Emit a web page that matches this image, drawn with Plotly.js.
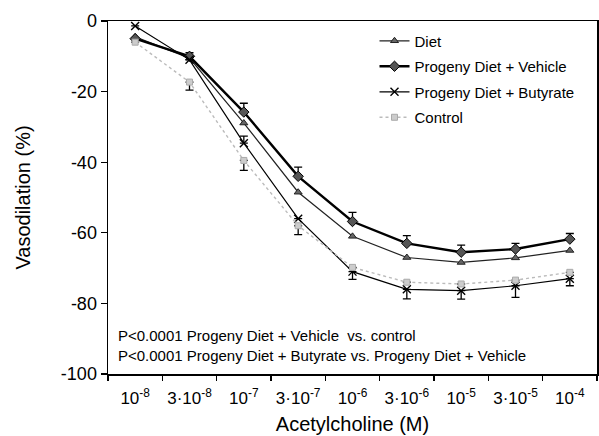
<!DOCTYPE html>
<html>
<head>
<meta charset="utf-8">
<script src="https://cdn.plot.ly/plotly-3.0.1.min.js"></script>
<style>html,body{margin:0;padding:0;background:#fff;}#chart{width:599px;height:436px;}</style>
</head>
<body>
<div id="chart"></div>
<script>
// Categories (acetylcholine concentration, M)
const categories = ["1e-8", "3e-8", "1e-7", "3e-7", "1e-6", "3e-6", "1e-5", "3e-5", "1e-4"];
const tickLabels = ["10<sup>-8</sup>", "3·10<sup>-8</sup>", "10<sup>-7</sup>", "3·10<sup>-7</sup>", "10<sup>-6</sup>",
                    "3·10<sup>-6</sup>", "10<sup>-5</sup>", "3·10<sup>-5</sup>", "10<sup>-4</sup>"];
const yTicks = [0, -20, -40, -60, -80, -100];

// Series values (% vasodilation)
const diet = [-4.5, -10.5, -28.9, -48.5, -61, -67, -68.4, -67.1, -65];
const vehicle = [-5, -10, -25.8, -44, -56.8, -63, -65.5, -64.6, -61.8];
const vehicleErrUp = [0, 1, 2.5, 2.6, 2.6, 2.2, 2, 1.6, 1.6];
const butyrate = [-1.4, -11, -34.6, -56, -71, -76, -76.4, -75, -73];
const butyrateErrUp = [0, 0, 2, 0, 0, 0, 0, 0, 0];
const butyrateErrDown = [0, 0, 0, 0, 2.2, 2.7, 2.4, 3.3, 2];
const control = [-6, -17.3, -39.5, -58, -69.8, -74, -74.5, -73.4, -71.2];
const controlErrDown = [0, 2.3, 2.8, 2.5, 0, 0, 0, 0, 0];

const zeros = categories.map(() => 0);
const font = "Arial, 'Liberation Sans', sans-serif";

const traces = [
  {
    name: "Diet", x: categories, y: diet, type: "scatter", mode: "lines+markers", legendgroup: "a",
    line: {color: "#222", width: 1.2},
    marker: {symbol: "triangle-up", size: 7, color: "#666", line: {color: "#222", width: 1}}
  },
  {
    name: "Progeny Diet + Vehicle", x: categories, y: vehicle, type: "scatter", mode: "lines+markers", legendgroup: "b",
    line: {color: "#000", width: 2.4},
    marker: {symbol: "diamond", size: 8, color: "#555", line: {color: "#000", width: 1}},
    error_y: {type: "data", symmetric: false, array: vehicleErrUp, arrayminus: zeros, color: "#000", thickness: 1.3, width: 4}
  },
  {
    name: "Progeny Diet + Butyrate", x: categories, y: butyrate, type: "scatter", mode: "lines+markers", legendgroup: "c",
    line: {color: "#000", width: 1.2},
    marker: {symbol: "x-thin", size: 8, color: "#000", line: {color: "#000", width: 1.4}},
    error_y: {type: "data", symmetric: false, array: butyrateErrUp, arrayminus: butyrateErrDown, color: "#000", thickness: 1.3, width: 4}
  },
  {
    name: "Control", x: categories, y: control, type: "scatter", mode: "lines+markers", legendgroup: "d",
    line: {color: "#bbb", width: 1.4, dash: "dot"},
    marker: {symbol: "square", size: 6, color: "#ccc", line: {color: "#aaa", width: 1}},
    error_y: {type: "data", symmetric: false, array: zeros, arrayminus: controlErrDown, color: "#000", thickness: 1.3, width: 4}
  }
];

const layout = {
  width: 599, height: 436,
  margin: {l: 108, r: 2, t: 21, b: 62},
  paper_bgcolor: "#fff", plot_bgcolor: "#fff",
  font: {family: font, color: "#000", size: 15},
  showlegend: true,
  legend: {
    x: 0.545, xanchor: "left", y: 0.99, yanchor: "top",
    bgcolor: "rgba(0,0,0,0)", borderwidth: 0,
    font: {family: font, size: 15, color: "#000"},
    tracegroupgap: 3
  },
  xaxis: {
    type: "category", categoryorder: "array", categoryarray: categories,
    tickmode: "array", tickvals: categories, ticktext: tickLabels,
    tickson: "boundaries", ticks: "outside", ticklen: 5, tickwidth: 1.3, tickcolor: "#000",
    tickangle: 0, ticklabelstandoff: 8,
    range: [-0.5, 8.5],
    showline: true, linecolor: "#000", linewidth: 1.5, mirror: true,
    showgrid: false, zeroline: false,
    tickfont: {family: font, size: 17, color: "#000"},
    title: {text: "Acetylcholine (M)", font: {family: font, size: 20, color: "#000"}, standoff: 10}
  },
  yaxis: {
    range: [-100, 0],
    tickmode: "array", tickvals: yTicks, ticktext: yTicks.map(String),
    ticks: "outside", ticklen: 6, tickwidth: 1.3, tickcolor: "#000",
    showline: true, linecolor: "#000", linewidth: 1.5, mirror: true,
    showgrid: false, zeroline: false,
    tickfont: {family: font, size: 18, color: "#000"},
    title: {text: "Vasodilation (%)", font: {family: font, size: 20, color: "#000"}, standoff: 25}
  },
  annotations: [
    {
      xref: "paper", yref: "paper", x: 0.016, y: 0.08, xanchor: "left", yanchor: "middle",
      align: "left", showarrow: false,
      text: "P<0.0001 Progeny Diet + Vehicle  vs. control<br>P<0.0001 Progeny Diet + Butyrate vs. Progeny Diet + Vehicle",
      font: {family: font, size: 15, color: "#000"}
    }
  ]
};

Plotly.newPlot("chart", traces, layout, {displayModeBar: false, staticPlot: true});
</script>
</body>
</html>
